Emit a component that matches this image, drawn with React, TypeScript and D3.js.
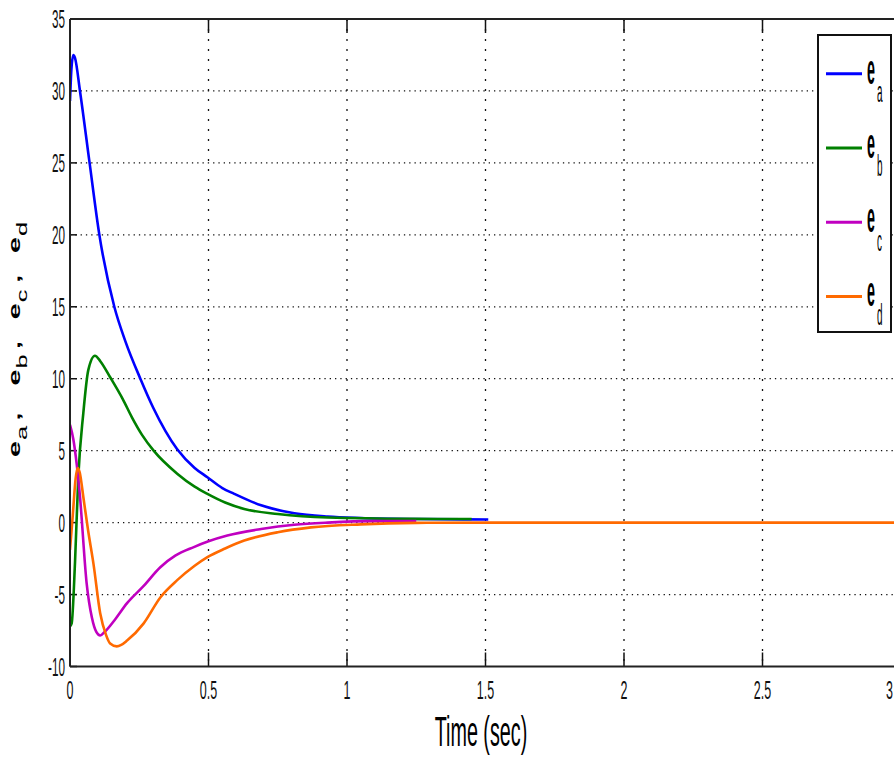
import React from "react";
import * as d3 from "d3";

// ---- data ----
const tA = [0, 0.005, 0.012, 0.018, 0.036, 0.07, 0.106, 0.16, 0.2, 0.254, 0.3, 0.387, 0.45, 0.496, 0.55, 0.593, 0.69, 0.81, 0.93, 1.05, 1.25, 1.51];
const eA = [29.3, 31.5, 32.5, 32.3, 30.0, 25.1, 20.0, 15.0, 12.6, 10.0, 8.0, 5.1, 3.8, 3.15, 2.4, 2.0, 1.2, 0.65, 0.42, 0.32, 0.25, 0.22];

const tB = [0, 0.006, 0.018, 0.03, 0.048, 0.066, 0.09, 0.11, 0.145, 0.19, 0.224, 0.26, 0.302, 0.387, 0.45, 0.496, 0.56, 0.629, 0.75, 0.93, 1.23, 1.45];
const eB = [-7.2, -7.0, -2.8, 3.2, 7.6, 10.6, 11.6, 11.2, 10.1, 8.6, 7.3, 6.1, 5.0, 3.4, 2.5, 2.0, 1.4, 0.95, 0.6, 0.35, 0.26, 0.25];

const tC = [0, 0.012, 0.024, 0.036, 0.06, 0.079, 0.095, 0.109, 0.125, 0.16, 0.206, 0.266, 0.326, 0.38, 0.447, 0.5, 0.568, 0.69, 0.81, 0.93, 1.1, 1.25];
const eC = [6.8, 5.8, 4.1, 1.8, -4.2, -6.6, -7.6, -7.85, -7.6, -6.8, -5.6, -4.4, -3.1, -2.3, -1.7, -1.3, -0.9, -0.45, -0.15, 0.0, 0.1, 0.1];

const tD = [0, 0.01, 0.02, 0.027, 0.035, 0.048, 0.065, 0.085, 0.109, 0.13, 0.145, 0.169, 0.185, 0.206, 0.266, 0.326, 0.387, 0.45, 0.496, 0.56, 0.629, 0.75, 0.87, 1.05, 1.25, 1.5, 3.0];
const eD = [-1.9, 0.5, 3.0, 3.8, 3.5, 1.8, -0.5, -2.9, -6.3, -7.8, -8.4, -8.6, -8.5, -8.2, -7.0, -5.2, -4.0, -3.0, -2.4, -1.8, -1.25, -0.67, -0.33, -0.12, -0.02, 0, 0];

const xTicks = [0, 0.5, 1, 1.5, 2, 2.5, 3];
const xTickLabels = ["0", "0.5", "1", "1.5", "2", "2.5", "3"];
const yTicks = [-10, -5, 0, 5, 10, 15, 20, 25, 30, 35];
const yTickLabels = ["-10", "-5", "0", "5", "10", "15", "20", "25", "30", "35"];

const seriesNames = ["a", "b", "c", "d"];
const seriesColors = ["#0000ff", "#008000", "#c000c0", "#ff6a00"];

export default function App() {
  const W = 894, H = 759;
  const left = 70, right = 901, top = 19, bottom = 666.5;
  const x = d3.scaleLinear().domain([0, 3]).range([left, right]);
  const y = d3.scaleLinear().domain([-10, 35]).range([bottom, top]);

  const series = [
    { t: tA, v: eA },
    { t: tB, v: eB },
    { t: tC, v: eC },
    { t: tD, v: eD },
  ];
  const line = d3
    .line<[number, number]>()
    .x((d) => x(d[0]))
    .y((d) => y(d[1]))
    .curve(d3.curveMonotoneX);

  const tickFont = "'Liberation Sans', Arial, sans-serif";
  const legTop = 35, legBottom = 332, legLeft = 818, legRight = 891;
  const legStep = (legBottom - legTop) / 4;

  const yLabelGroups = [0, 42, 81, 120];

  return (
    <svg
      width={W}
      height={H}
      style={{ position: "absolute", left: 0, top: 0, background: "#fff" }}
    >
      <defs>
        <clipPath id="plotclip">
          <rect x={left} y={top} width={W - left} height={bottom - top} />
        </clipPath>
      </defs>
      <rect x={0} y={0} width={W} height={H} fill="#fff" />

      {/* grid */}
      {yTicks
        .filter((v) => v !== -10 && v !== 35)
        .map((v) => (
          <line
            key={"gy" + v}
            x1={left}
            x2={W}
            y1={y(v)}
            y2={y(v)}
            stroke="#111"
            strokeWidth={1.3}
            strokeDasharray="1.3,4"
          />
        ))}
      {xTicks
        .filter((v) => v !== 0 && v !== 3)
        .map((v) => (
          <line
            key={"gx" + v}
            x1={x(v)}
            x2={x(v)}
            y1={top}
            y2={bottom}
            stroke="#111"
            strokeWidth={1.3}
            strokeDasharray="2,8"
          />
        ))}

      {/* tick marks */}
      {yTicks.map((v) => (
        <g key={"ty" + v}>
          <line x1={left} x2={left + 7} y1={y(v)} y2={y(v)} stroke="#111" strokeWidth={1.5} />
          <line x1={right} x2={right - 7} y1={y(v)} y2={y(v)} stroke="#111" strokeWidth={1.5} />
        </g>
      ))}
      {xTicks.map((v) => (
        <g key={"tx" + v}>
          <line x1={x(v)} x2={x(v)} y1={bottom} y2={bottom - 14} stroke="#111" strokeWidth={1.5} />
          <line x1={x(v)} x2={x(v)} y1={top} y2={top + 14} stroke="#111" strokeWidth={1.5} />
        </g>
      ))}

      {/* data lines */}
      <g clipPath="url(#plotclip)">
        {series.map((s, i) => (
          <path
            key={"s" + i}
            d={line(s.t.map((t, k) => [t, s.v[k]] as [number, number])) || ""}
            fill="none"
            stroke={seriesColors[i]}
            strokeWidth={2.6}
            strokeLinejoin="round"
          />
        ))}
      </g>

      {/* axes frame */}
      <line x1={left} x2={W} y1={top} y2={top} stroke="#222" strokeWidth={2} />
      <line x1={left} x2={W} y1={bottom} y2={bottom} stroke="#222" strokeWidth={2} />
      <line x1={left} x2={left} y1={top} y2={bottom} stroke="#222" strokeWidth={2} />

      {/* y tick labels */}
      {yTicks.map((v, i) => (
        <g key={"yl" + v} transform={`translate(65,${y(v)}) scale(0.45,1)`}>
          <text
            x={0}
            y={0}
            textAnchor="end"
            dominantBaseline="central"
            fontFamily={tickFont}
            fontSize={26}
            fill="#111"
          >
            {yTickLabels[i]}
          </text>
        </g>
      ))}

      {/* x tick labels (last one kept inside the window) */}
      {xTicks.map((v, i) => {
        const last = i === xTicks.length - 1;
        const px = last ? Math.min(x(v), W - 1) : x(v);
        return (
          <g key={"xl" + v} transform={`translate(${px},699) scale(0.48,1)`}>
            <text
              x={0}
              y={0}
              textAnchor={last ? "end" : "middle"}
              fontFamily={tickFont}
              fontSize={26}
              fill="#111"
            >
              {xTickLabels[i]}
            </text>
          </g>
        );
      })}

      {/* x axis label */}
      <g transform="translate(481,746) scale(0.47,1)">
        <text x={0} y={0} textAnchor="middle" fontFamily={tickFont} fontSize={42} fill="#000">
          Time (sec)
        </text>
      </g>

      {/* y axis label */}
      <g transform="translate(20,457) rotate(-90) scale(1.7,1)">
        {seriesNames.map((n, i) => (
          <g key={"yn" + n}>
            <text x={yLabelGroups[i]} y={0} fontFamily={tickFont} fontWeight="bold" fontSize={17} fill="#000">
              e
            </text>
            <text x={yLabelGroups[i] + 10} y={7} fontFamily={tickFont} fontSize={15} fill="#000">
              {n}
            </text>
            {i < 3 && (
              <text x={yLabelGroups[i] + 21.5} y={0} fontFamily={tickFont} fontWeight="bold" fontSize={17} fill="#000">
                ,
              </text>
            )}
          </g>
        ))}
      </g>

      {/* legend */}
      <rect
        x={legLeft}
        y={legTop}
        width={legRight - legLeft}
        height={legBottom - legTop}
        fill="#fff"
        stroke="#111"
        strokeWidth={2}
      />
      {seriesNames.map((n, i) => {
        const ly = legTop + legStep * (i + 0.5) + 1.5;
        return (
          <g key={"lg" + n}>
            <line x1={826} x2={862} y1={ly} y2={ly} stroke={seriesColors[i]} strokeWidth={3} />
            <g transform={`translate(867,${ly + 10}) scale(0.55,1.6)`}>
              <text x={0} y={0} fontFamily={tickFont} fontWeight="bold" fontSize={26} fill="#000">
                e
              </text>
              <text x={18} y={11.5} fontFamily={tickFont} fontSize={18} fill="#000">
                {n}
              </text>
            </g>
          </g>
        );
      })}
    </svg>
  );
}
